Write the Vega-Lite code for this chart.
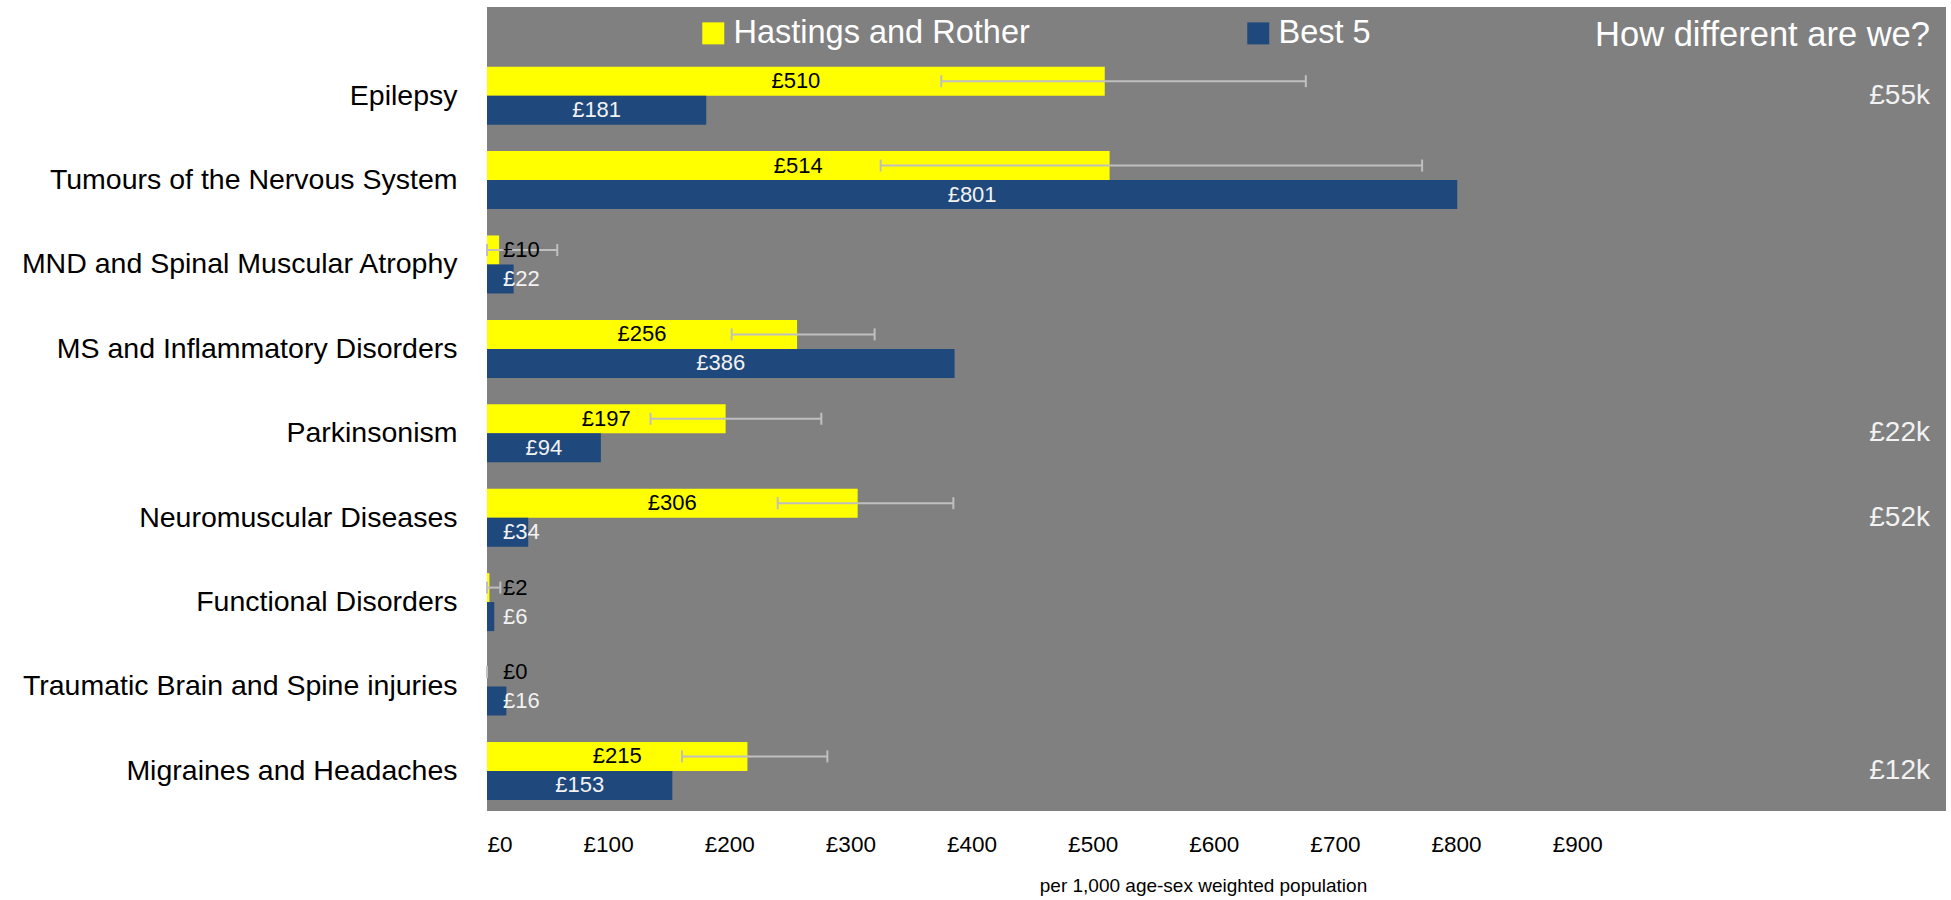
{
  "$schema": "https://vega.github.io/schema/vega-lite/v6.json",
  "width": 1459,
  "height": 804,
  "autosize": {"type": "none"},
  "padding": {"left": 487, "top": 7, "right": 5, "bottom": 89},
  "background": "#FFFFFF",
  "config": {
    "font": "Liberation Sans",
    "view": {"fill": "#808080", "stroke": null},
    "axis": {"grid": false, "ticks": false, "tickSize": 0, "domain": false},
    "locale": {"number": {"decimal": ".", "thousands": ",", "grouping": [3], "currency": ["£", ""]}}
  },
  "title": {
    "text": "How different are we?",
    "orient": "top",
    "anchor": "end",
    "frame": "group",
    "offset": -27,
    "baseline": "middle",
    "dx": -16,
    "dy": 36,
    "fontSize": 34.5,
    "font": "Liberation Sans",
    "fontWeight": "normal",
    "color": "#FFFFFF"
  },
  "data": {
    "values": [
      {"category": "Epilepsy", "series": "Hastings and Rother", "value": 510, "lo": 375, "hi": 676, "diff": "£55k"},
      {"category": "Epilepsy", "series": "Best 5", "value": 181},
      {"category": "Tumours of the Nervous System", "series": "Hastings and Rother", "value": 514, "lo": 325, "hi": 772},
      {"category": "Tumours of the Nervous System", "series": "Best 5", "value": 801},
      {"category": "MND and Spinal Muscular Atrophy", "series": "Hastings and Rother", "value": 10, "lo": 0, "hi": 58},
      {"category": "MND and Spinal Muscular Atrophy", "series": "Best 5", "value": 22},
      {"category": "MS and Inflammatory Disorders", "series": "Hastings and Rother", "value": 256, "lo": 202, "hi": 320},
      {"category": "MS and Inflammatory Disorders", "series": "Best 5", "value": 386},
      {"category": "Parkinsonism", "series": "Hastings and Rother", "value": 197, "lo": 135, "hi": 276, "diff": "£22k"},
      {"category": "Parkinsonism", "series": "Best 5", "value": 94},
      {"category": "Neuromuscular Diseases", "series": "Hastings and Rother", "value": 306, "lo": 240, "hi": 385, "diff": "£52k"},
      {"category": "Neuromuscular Diseases", "series": "Best 5", "value": 34},
      {"category": "Functional Disorders", "series": "Hastings and Rother", "value": 2, "lo": 0, "hi": 11},
      {"category": "Functional Disorders", "series": "Best 5", "value": 6},
      {"category": "Traumatic Brain and Spine injuries", "series": "Hastings and Rother", "value": 0, "lo": 0, "hi": 0},
      {"category": "Traumatic Brain and Spine injuries", "series": "Best 5", "value": 16},
      {"category": "Migraines and Headaches", "series": "Hastings and Rother", "value": 215, "lo": 161, "hi": 281, "diff": "£12k"},
      {"category": "Migraines and Headaches", "series": "Best 5", "value": 153}
    ]
  },
  "encoding": {
    "y": {
      "field": "category",
      "type": "nominal",
      "sort": null,
      "scale": {"paddingInner": 0.3128, "paddingOuter": 0.4194, "align": 0.843},
      "axis": {
        "title": null,
        "labelFontSize": 28.5,
        "labelFont": "Liberation Sans",
        "labelColor": "#000000",
        "labelPadding": 30,
        "labelLimit": 700
      }
    }
  },
  "layer": [
    {
      "layer": [
        {
          "mark": {"type": "bar"},
          "encoding": {
            "x": {
              "field": "value",
              "type": "quantitative",
              "scale": {"domain": [0, 1204.5], "nice": false},
              "axis": {
                "values": [0, 100, 200, 300, 400, 500, 600, 700, 800, 900],
                "format": "$.0f",
                "labelFontSize": 22.5,
                "labelFont": "Liberation Sans",
                "labelColor": "#000000",
                "labelPadding": 22,
                "title": "per 1,000 age-sex weighted population",
                "titleFont": "Liberation Sans",
                "titleFontSize": 19,
                "titleFontWeight": "normal",
                "titleColor": "#000000",
                "titlePadding": 21,
                "titleX": 716
              }
            },
            "yOffset": {
              "field": "series",
              "type": "nominal",
              "scale": {"domain": ["Hastings and Rother", "Best 5"], "paddingInner": 0, "paddingOuter": 0}
            },
            "color": {
              "field": "series",
              "type": "nominal",
              "scale": {"domain": ["Hastings and Rother", "Best 5"], "range": ["#FFFF00", "#1F497D"]},
              "legend": {
                "orient": "none",
                "legendX": 210,
                "legendY": 10,
                "direction": "horizontal",
                "title": null,
                "symbolType": "square",
                "symbolSize": 484,
                "symbolStrokeWidth": 0,
                "labelFontSize": 32.5,
                "labelFont": "Liberation Sans",
                "labelColor": "#FFFFFF",
                "labelLimit": 600,
                "labelOffset": 4,
                "columnPadding": 212,
                "padding": 0
              }
            }
          }
        },
        {
          "transform": [{"filter": "datum.series === 'Hastings and Rother'"}],
          "mark": {"type": "rule", "color": "#BFBFBF", "strokeWidth": 2},
          "encoding": {
            "x": {"field": "lo", "type": "quantitative"},
            "x2": {"field": "hi"},
            "yOffset": {"field": "series", "type": "nominal"}
          }
        },
        {
          "transform": [{"filter": "datum.series === 'Hastings and Rother'"}],
          "mark": {"type": "tick", "color": "#BFBFBF", "thickness": 2, "size": 12, "opacity": 1},
          "encoding": {
            "x": {"field": "lo", "type": "quantitative"},
            "yOffset": {"field": "series", "type": "nominal"}
          }
        },
        {
          "transform": [{"filter": "datum.series === 'Hastings and Rother'"}],
          "mark": {"type": "tick", "color": "#BFBFBF", "thickness": 2, "size": 12, "opacity": 1},
          "encoding": {
            "x": {"field": "hi", "type": "quantitative"},
            "yOffset": {"field": "series", "type": "nominal"}
          }
        },
        {
          "transform": [{"filter": "datum.value < 40"}],
          "mark": {"type": "text", "align": "left", "baseline": "middle", "dx": 16, "fontSize": 22, "font": "Liberation Sans"},
          "encoding": {
            "x": {"datum": 0, "type": "quantitative"},
            "yOffset": {"field": "series", "type": "nominal"},
            "text": {"field": "value", "type": "quantitative", "format": "$.0f"},
            "color": {"condition": {"test": "datum.series === 'Best 5'", "value": "#F2F2F2"}, "value": "#000000"}
          }
        },
        {
          "transform": [{"filter": "isValid(datum.diff)"}],
          "mark": {"type": "text", "align": "right", "baseline": "middle", "dx": -16, "fontSize": 28, "font": "Liberation Sans", "color": "#F2F2F2"},
          "encoding": {
            "x": {"datum": 1204.5, "type": "quantitative"},
            "text": {"field": "diff", "type": "nominal"}
          }
        }
      ]
    },
    {
      "transform": [{"filter": "datum.value >= 40"}],
      "mark": {"type": "text", "align": "center", "baseline": "middle", "fontSize": 22, "font": "Liberation Sans"},
      "encoding": {
        "x": {"field": "value", "type": "quantitative", "scale": {"domain": [0, 2409], "nice": false}, "axis": null},
        "yOffset": {"field": "series", "type": "nominal"},
        "text": {"field": "value", "type": "quantitative", "format": "$.0f"},
        "color": {"condition": {"test": "datum.series === 'Best 5'", "value": "#F2F2F2"}, "value": "#000000"}
      }
    }
  ],
  "resolve": {"scale": {"x": "independent"}}
}
